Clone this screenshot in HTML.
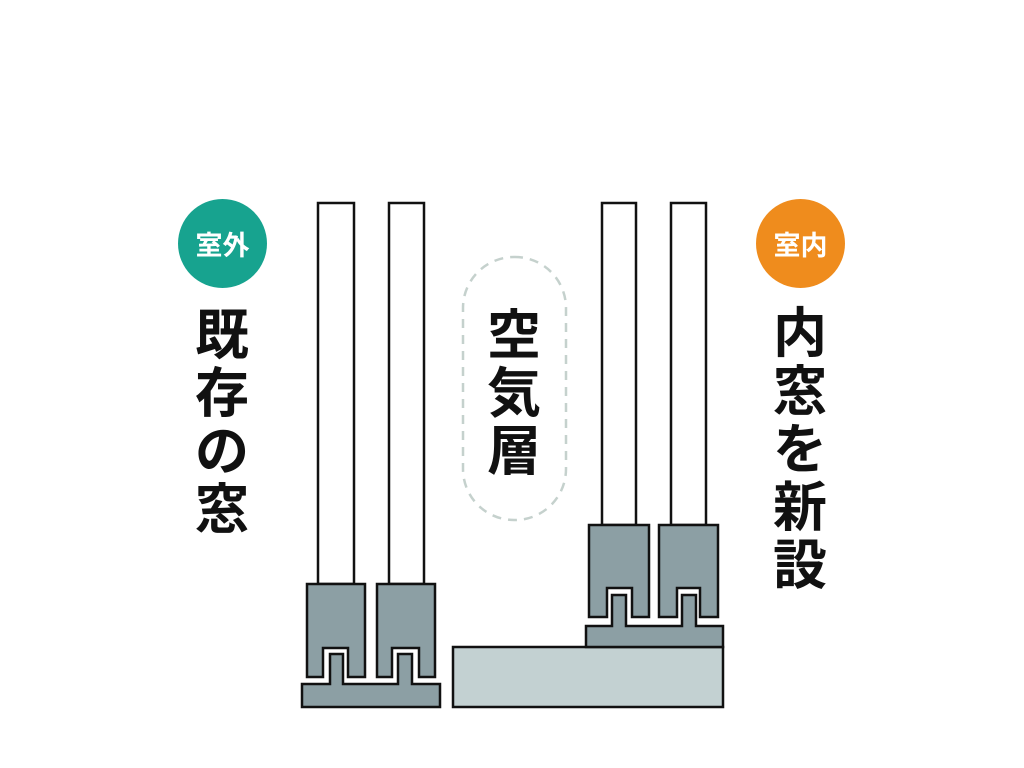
<!DOCTYPE html>
<html><head><meta charset="utf-8"><style>
html,body{margin:0;padding:0;background:#fff;}
body{width:1024px;height:768px;position:relative;overflow:hidden;font-family:"Liberation Sans","Noto Sans CJK JP",sans-serif;}
.v{position:absolute;font-weight:700;font-size:54px;line-height:58px;width:60px;text-align:center;color:#111;font-family:"Noto Sans CJK JP",sans-serif;}
.c{position:absolute;width:89px;height:89px;border-radius:50%;color:#fff;font-weight:700;font-size:27px;line-height:89px;text-align:center;font-family:"Noto Sans CJK JP",sans-serif;}
</style></head><body>
<svg width="1024" height="768" style="position:absolute;left:0;top:0">
<g stroke="#111" stroke-width="2.5" stroke-linejoin="miter">
<rect x="318" y="203" width="36" height="381" fill="#fff"/>
<rect x="389" y="203" width="35" height="381" fill="#fff"/>
<rect x="602" y="203" width="34" height="322" fill="#fff"/>
<rect x="671" y="203" width="35" height="322" fill="#fff"/>
<path d="M307 584H365V677H348V648H323V677H307Z" fill="#8c9fa4"/>
<path d="M377 584H435V677H419V648H392V677H377Z" fill="#8c9fa4"/>
<path d="M302 684H330V654H343V684H398V654H412V684H440V707H302Z" fill="#8c9fa4"/>
<rect x="453" y="647" width="270" height="60" fill="#c3d1d2"/>
<path d="M589 525H649V617H632V588H607V617H589Z" fill="#8c9fa4"/>
<path d="M659 525H718V617H700V588H677V617H659Z" fill="#8c9fa4"/>
<path d="M586 626H612V595H626V626H682V595H696V626H723V647H586Z" fill="#8c9fa4"/>
</g>
<rect x="463" y="257" width="103" height="263" rx="51" fill="none" stroke="#c5d1cd" stroke-width="2.5" stroke-dasharray="9 7"/>
</svg>
<div class="c" style="left:178px;top:199px;background:#17a38f">室外</div>
<div class="c" style="left:756px;top:199px;background:#ef8c1d">室内</div>
<div class="v" style="left:192px;top:302px">既<br>存<br>の<br>窓</div>
<div class="v" style="left:484px;top:302px">空<br>気<br>層</div>
<div class="v" style="left:770px;top:300px">内<br>窓<br>を<br>新<br>設</div>
</body></html>
